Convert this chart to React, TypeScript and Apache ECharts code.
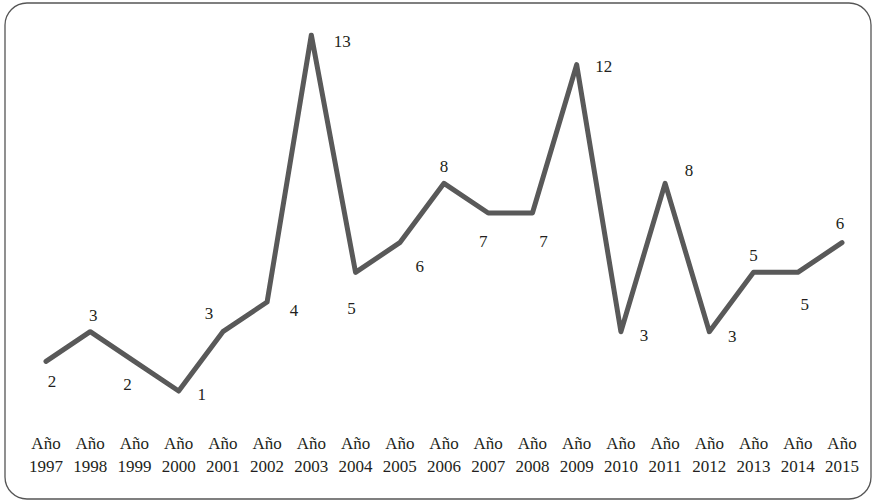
import React, { useEffect, useRef } from "react";
import * as echarts from "echarts";

const years = ["1997","1998","1999","2000","2001","2002","2003","2004","2005","2006","2007","2008","2009","2010","2011","2012","2013","2014","2015"];
const values = [2,3,2,1,3,4,13,5,6,8,7,7,12,3,8,3,5,5,6];
// label offsets [dx, dy] relative to each point (layout only)
const labelOffsets: [number, number][] = [
  [6, 20],[3, -16],[-7, 23],[23, 3],[-14, -18],[27, 8],[31, 7],[-4, 36],[20, 24],[0, -17],[-5, 28],[11, 28],[27, 2],[23, 4],[24, -13],[23, 5],[0, -17],[7, 32],[-2, -19],
];

const FONT = "Liberation Serif";

export default function App() {
  const ref = useRef<HTMLDivElement>(null);
  useEffect(() => {
    if (!ref.current) return;
    const chart = echarts.init(ref.current, null, { renderer: "svg" });
    const labelStyle = {
      show: true,
      align: "center",
      verticalAlign: "middle",
      fontFamily: FONT,
      fontWeight: "normal",
      fontSize: 17,
      color: "#231f20",
      textBorderWidth: 0,
      textBorderColor: "transparent",
      opacity: 1,
    };
    chart.setOption({
      animation: false,
      textStyle: { fontFamily: FONT },
      grid: { left: 46, right: 30, top: 35, bottom: 80.3, containLabel: false },
      xAxis: {
        type: "category",
        data: years,
        boundaryGap: false,
        axisLine: { show: false },
        axisTick: { show: false },
        axisLabel: {
          interval: 0,
          margin: 11,
          formatter: (v: string) => "Año\n" + v,
          fontFamily: FONT,
          fontSize: 17,
          lineHeight: 23,
          color: "#231f20",
        },
        splitLine: { show: false },
      },
      yAxis: {
        type: "value",
        min: 0,
        max: 13,
        show: false,
        splitLine: { show: false },
      },
      graphic: [
        {
          type: "rect",
          shape: { x: 5, y: 3, width: 866, height: 496, r: 22 },
          style: { fill: "none", stroke: "#555555", lineWidth: 1.3 },
          silent: true,
        },
      ],
      series: [
        {
          type: "line",
          data: values.map((v, i) => ({
            value: v,
            label: { ...labelStyle, position: labelOffsets[i] },
          })),
          symbol: "circle",
          symbolSize: 0.01,
          showSymbol: true,
          itemStyle: { color: "#595959", opacity: 0 },
          lineStyle: { color: "#595959", width: 5, join: "round", cap: "round" },
          labelLayout: { hideOverlap: false },
          label: labelStyle,
        },
      ],
    });
    return () => chart.dispose();
  }, []);
  return <div ref={ref} style={{ width: 872, height: 501, position: "absolute", left: 0, top: 0, background: "#fff" }} />;
}
